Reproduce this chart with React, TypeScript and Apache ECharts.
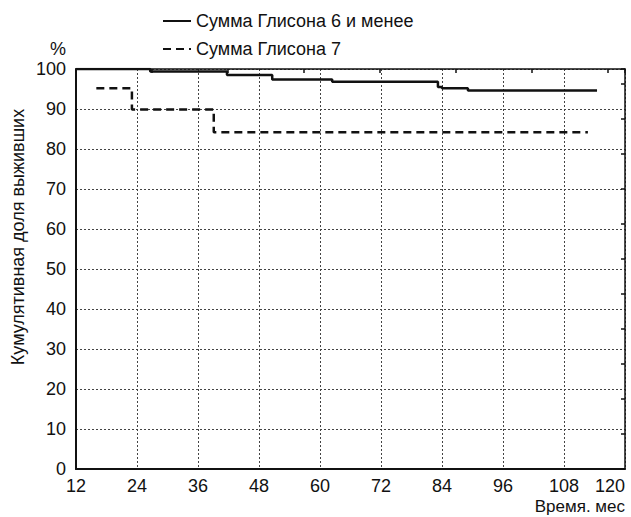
import React, { useEffect, useRef } from "react";
import * as echarts from "echarts";

const xTicks = [12, 24, 36, 48, 60, 72, 84, 96, 108, 120];
const seriesNames = ["Сумма Глисона 6 и менее", "Сумма Глисона 7"];
const g6Time = [12, 26.6, 41.7, 50.6, 62.4, 83.2, 84, 89.1, 114.5];
const g6Value = [100, 99.4, 98.5, 97.4, 96.8, 95.5, 95.2, 94.6, 94.6];
const g7Time = [16, 23, 39.1, 112.7];
const g7Value = [95.2, 89.9, 84.2, 84.2];
const yAxisTitle = "Кумулятивная доля выживших";
const xAxisTitle = "Время. мес";
const unitLabel = "%";

const FONT = "'Liberation Sans', Arial, sans-serif";

export default function App() {
  const ref = useRef<HTMLDivElement>(null);
  useEffect(() => {
    if (!ref.current) return;
    const chart = echarts.init(ref.current, undefined, { renderer: "svg" });
    const pairs = (t: number[], v: number[]) => t.map((x, i) => [x, v[i]]);
    const gridLine = { show: true, lineStyle: { color: "#444", width: 1, type: [2, 2] as any } };
    chart.setOption({
      animation: false,
      backgroundColor: "#fff",
      textStyle: { fontFamily: FONT },
      grid: { left: 76, top: 69, right: 6, bottom: 48, outerBoundsMode: "none", containLabel: false },
      legend: {
        orient: "vertical",
        left: 162,
        top: 12,
        padding: 0,
        itemWidth: 28,
        itemHeight: 18,
        itemGap: 10,
        itemStyle: { opacity: 0 },
        textStyle: { fontSize: 18, color: "#111", fontFamily: FONT },
        data: seriesNames,
      },
      xAxis: [
        {
          type: "value",
          min: xTicks[0],
          max: xTicks[xTicks.length - 1],
          interval: 12,
          axisLine: { show: true, onZero: false, lineStyle: { color: "#111", width: 2 } },
          axisTick: { show: false },
          axisLabel: { fontSize: 18, color: "#111", margin: 8, fontFamily: FONT, alignMaxLabel: "right" },
          splitLine: gridLine,
        },
        {
          type: "value",
          position: "top",
          min: -20,
          max: 529,
          interval: 76,
          axisLine: { show: true, onZero: false, lineStyle: { color: "#111", width: 1.5 } },
          axisTick: { show: true, inside: true, length: 4, lineStyle: { color: "#111", width: 1.5 } },
          axisLabel: { show: false },
          splitLine: { show: false },
        },
      ],
      yAxis: [
        {
          type: "value",
          min: 0,
          max: 100,
          interval: 10,
          axisLine: { show: true, onZero: false, lineStyle: { color: "#111", width: 2 } },
          axisTick: { show: false },
          axisLabel: { fontSize: 18, color: "#111", margin: 10, fontFamily: FONT },
          splitLine: gridLine,
        },
        {
          type: "value",
          position: "right",
          min: 0,
          max: 11.43,
          interval: 1,
          axisLine: { show: true, onZero: false, lineStyle: { color: "#111", width: 1.5 } },
          axisTick: { show: true, inside: true, length: 4, lineStyle: { color: "#111", width: 1.5 } },
          axisLabel: { show: false },
          splitLine: { show: false },
        },
      ],
      graphic: [
        {
          type: "text",
          x: 18,
          y: 237,
          rotation: Math.PI / 2,
          style: {
            text: yAxisTitle,
            fontSize: 18,
            fill: "#111",
            fontFamily: FONT,
            align: "center",
            verticalAlign: "middle",
          },
        },
        {
          type: "text",
          x: 58,
          y: 49,
          style: { text: unitLabel, fontSize: 18, fill: "#111", fontFamily: FONT, align: "center", verticalAlign: "middle" },
        },
        {
          type: "text",
          x: 625,
          y: 506,
          style: { text: xAxisTitle, fontSize: 17, fill: "#111", fontFamily: FONT, align: "right", verticalAlign: "middle" },
        },
      ],
      series: [
        {
          name: seriesNames[0],
          type: "line",
          step: "end",
          symbol: "none",
          data: pairs(g6Time, g6Value),
          lineStyle: { color: "#111", width: 2.5, type: "solid" },
          itemStyle: { color: "#111" },
          z: 5,
        },
        {
          name: seriesNames[1],
          type: "line",
          step: "end",
          symbol: "none",
          data: pairs(g7Time, g7Value),
          lineStyle: { color: "#111", width: 2.5, type: [8, 5] as any },
          itemStyle: { color: "#111" },
          z: 5,
        },
      ],
    });
    return () => chart.dispose();
  }, []);
  return <div ref={ref} style={{ width: 631, height: 517, position: "absolute", left: 0, top: 0 }} />;
}
